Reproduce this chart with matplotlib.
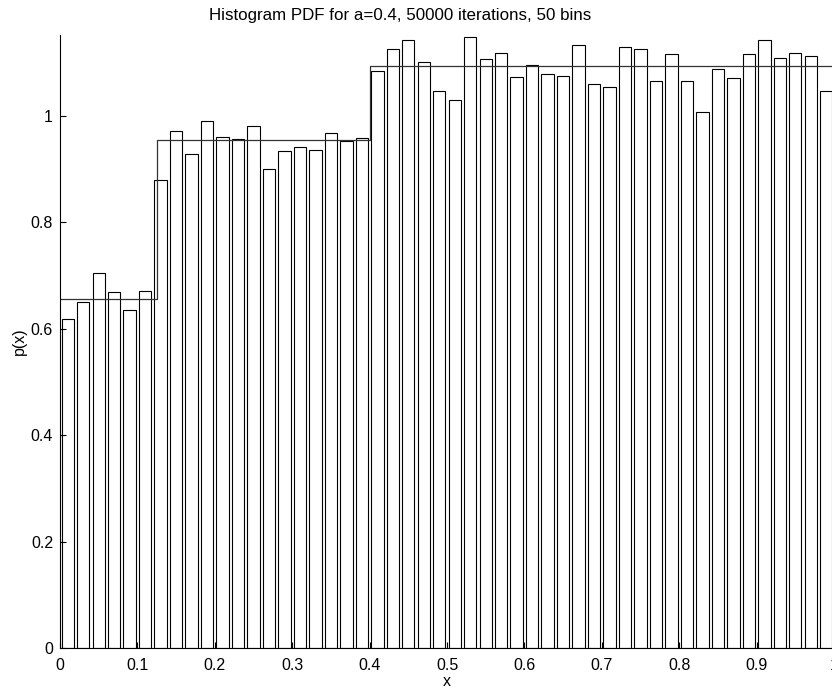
import numpy as np
import matplotlib
matplotlib.use("Agg")
import matplotlib.pyplot as plt

plt.rcParams['font.family'] = ['Liberation Sans', 'DejaVu Sans']

# histogram heights, 50 bins on [0, 1]
heights = [0.618, 0.651, 0.704, 0.669, 0.635, 0.670, 0.880, 0.972, 0.928, 0.990,
           0.961, 0.957, 0.981, 0.901, 0.934, 0.942, 0.935, 0.968, 0.953, 0.958,
           1.084, 1.126, 1.142, 1.101, 1.046, 1.030, 1.148, 1.106, 1.119, 1.074,
           1.095, 1.078, 1.075, 1.134, 1.060, 1.055, 1.129, 1.125, 1.066, 1.117,
           1.066, 1.008, 1.088, 1.072, 1.116, 1.142, 1.108, 1.119, 1.113, 1.047]
n_bins = 50

# exact pdf (piecewise constant)
step_x = [0.0, 0.125, 0.4, 1.0]
step_y = [0.655, 0.955, 1.093]

centers = (np.arange(n_bins) + 0.5) / n_bins
bin_w = 1.0 / n_bins

fig = plt.figure(figsize=(8.32, 6.91), dpi=100)
ax = fig.add_axes([60 / 832, 43 / 691, 774 / 832, 613 / 691])

ax.bar(centers, heights, width=0.8 * bin_w, facecolor='white',
       edgecolor='black', linewidth=0.8)
ax.step(step_x, step_y + [step_y[-1]], where='post', color='#333333', linewidth=0.9)

ax.set_xlim(0, 1)
ax.set_ylim(0, 1.152)
ax.set_xticks(np.arange(0, 1.01, 0.1))
ax.set_xticklabels(['0', '0.1', '0.2', '0.3', '0.4', '0.5', '0.6', '0.7', '0.8', '0.9', '1'])
ax.set_yticks([0, 0.2, 0.4, 0.6, 0.8, 1.0])
ax.set_yticklabels(['0', '0.2', '0.4', '0.6', '0.8', '1'])
ax.tick_params(direction='in', length=4, width=0.8, labelsize=11.5)
ax.tick_params(axis='x', pad=7)
ax.tick_params(axis='y', pad=5)
ax.spines['top'].set_visible(False)
ax.spines['right'].set_visible(False)
for s in ['left', 'bottom']:
    ax.spines[s].set_linewidth(0.8)

ax.set_title('Histogram PDF for a=0.4, 50000 iterations, 50 bins', fontsize=12.2,
             x=0.44, pad=11)
ax.set_xlabel('x', fontsize=11.5, labelpad=1)
ax.set_ylabel('p(x)', fontsize=11.5, labelpad=3)

fig.savefig('out.png', dpi=100)
